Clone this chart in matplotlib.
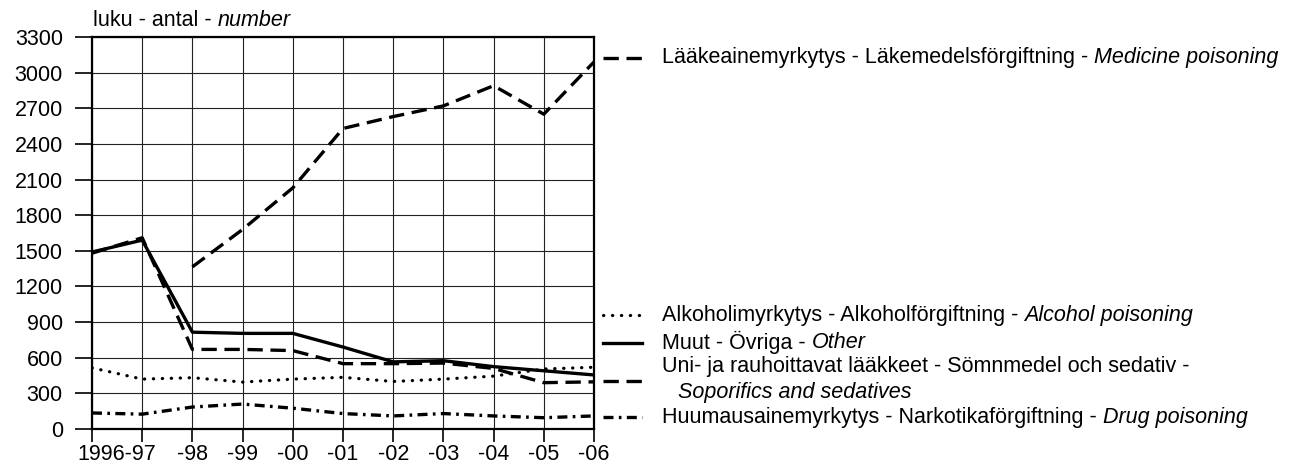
import matplotlib
matplotlib.use("Agg")
import matplotlib.pyplot as plt
from matplotlib.lines import Line2D
import numpy as np

plt.rcParams['font.family'] = ['Liberation Sans', 'DejaVu Sans']

years = list(range(1996, 2007))
tick_labels = ['', '', '-98', '-99', '-00', '-01', '-02', '-03', '-04', '-05', '-06']

medicine = [np.nan, np.nan, 1365, 1680, 2030, 2530, 2630, 2720, 2890, 2650, 3090]
alcohol = [515, 420, 432, 395, 420, 435, 400, 420, 445, 505, 520]
other = [1490, 1590, 815, 805, 805, 690, 565, 575, 525, 490, 455]
sedatives = [1480, 1610, 670, 670, 660, 550, 550, 555, 510, 390, 397]
drugs = [135, 125, 185, 210, 175, 130, 110, 130, 110, 95, 110]

W, H = 1303, 465
fig = plt.figure(figsize=(W / 100, H / 100), dpi=100)
ax = fig.add_axes([92 / W, 1 - 429 / H, (594 - 92) / W, (429 - 37) / H])

x = np.arange(len(years))
lw = 2.4
style_med = dict(color='black', lw=lw, dashes=(4.6, 2.3))
style_alc = dict(color='black', lw=2.3, dashes=(0.1, 2.7), dash_capstyle='round')
style_oth = dict(color='black', lw=lw)
style_sed = dict(color='black', lw=lw, dashes=(4.6, 2.3))
style_drg = dict(color='black', lw=lw, dashes=(3.0, 1.6, 0.8, 1.6))

ax.plot(x, drugs, **style_drg)
ax.plot(x, alcohol, **style_alc)
ax.plot(x, sedatives, **style_sed)
ax.plot(x, other, **style_oth)
ax.plot(x, medicine, **style_med)

fs = 15.5

ax.set_xlim(0, 10)
ax.set_ylim(0, 3300)
ax.set_yticks(range(0, 3301, 300))
ax.set_xticks(x, tick_labels)
ax.set_xticks([0.5], ['1996-97'], minor=True)
ax.tick_params(axis='both', which='both', labelsize=fs)
ax.tick_params(axis='x', which='minor', length=0, pad=11)
ax.tick_params(axis='x', which='major', length=9.5, width=1.2, pad=1.5)
ax.tick_params(axis='y', length=12, width=1.2, pad=9)
ax.grid(True, which='major', color='#222222', lw=0.8)
for s in ax.spines.values():
    s.set_linewidth(1.6)


def label(xp, yp, plain, italic):
    t = fig.text(xp / W, 1 - yp / H, plain, fontsize=fs, va='center', ha='left')
    if italic:
        ax.annotate(italic, xy=(1, 0.5), xycoords=t, va='center', ha='left',
                    fontsize=fs, style='italic', annotation_clip=False)
    return t


def sample(yp, style):
    fig.add_artist(Line2D([603 / W, 642 / W], [1 - yp / H, 1 - yp / H],
                          transform=fig.transFigure, **style))


label(93, 20, 'luku - antal - ', 'number')

sample(58, style_med)
label(662, 58, 'Lääkeainemyrkytys - Läkemedelsförgiftning - ', 'Medicine poisoning')
sample(315, style_alc)
label(662, 315, 'Alkoholimyrkytys - Alkoholförgiftning - ', 'Alcohol poisoning')
sample(343, style_oth)
label(662, 342, 'Muut - Övriga - ', 'Other')
sample(381, style_sed)
label(662, 366, 'Uni- ja rauhoittavat lääkkeet - Sömnmedel och sedativ -', None)
fig.text(678 / W, 1 - 392 / H, 'Soporifics and sedatives', fontsize=fs,
         style='italic', va='center', ha='left')
sample(417, style_drg)
label(662, 417, 'Huumausainemyrkytys - Narkotikaförgiftning - ', 'Drug poisoning')

fig.savefig('out.png', dpi=100)
